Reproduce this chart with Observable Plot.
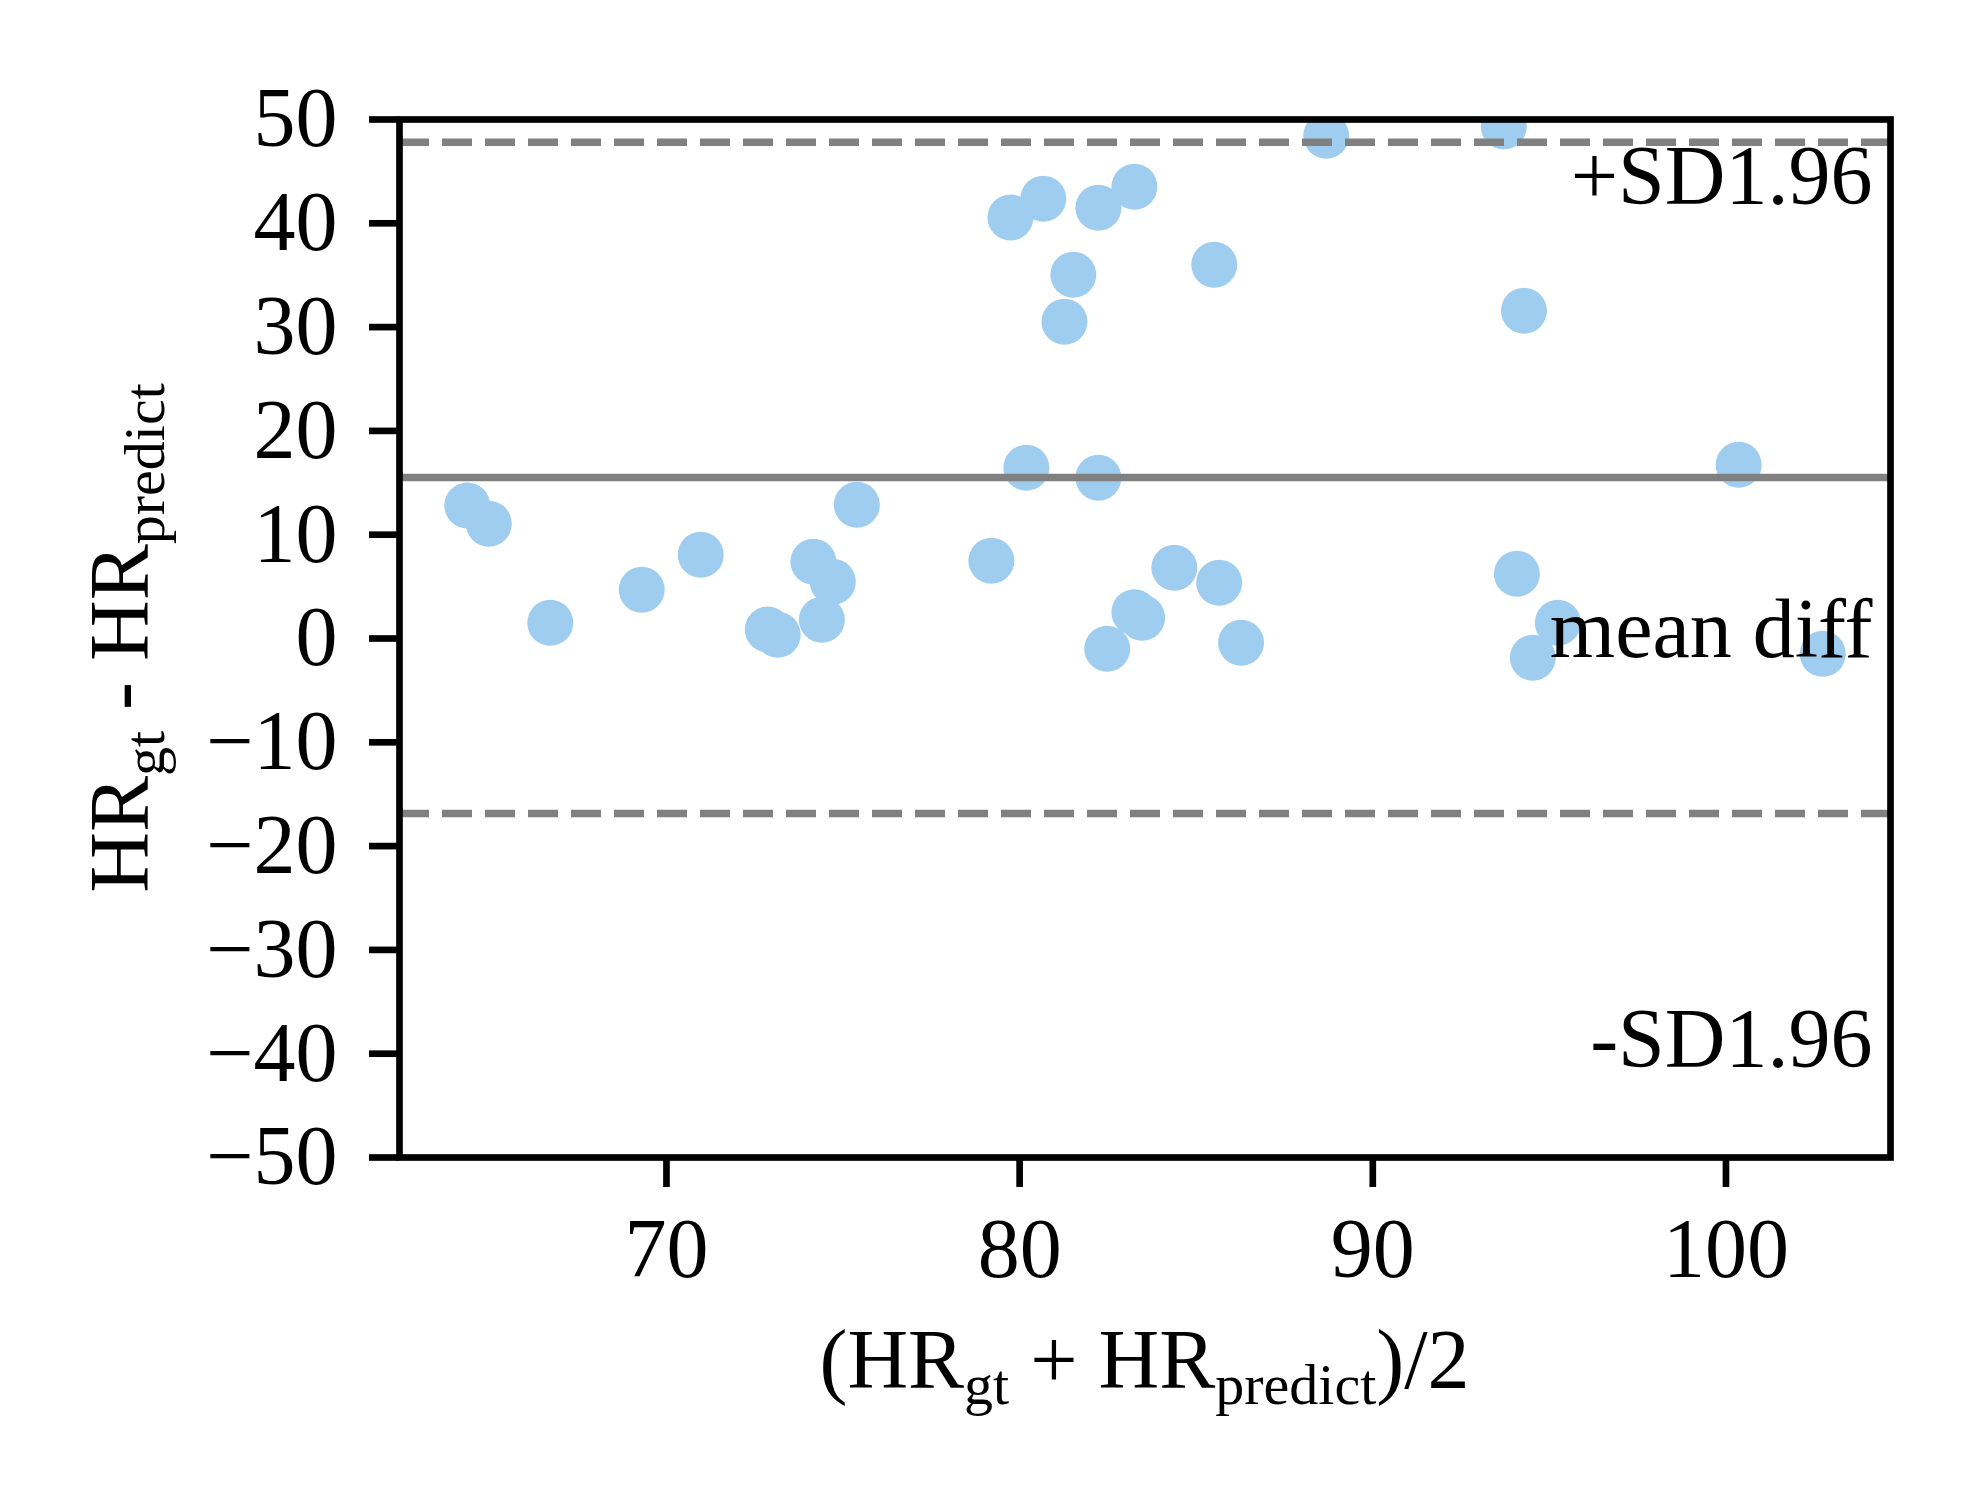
<!DOCTYPE html>
<html>
<head>
<meta charset="utf-8">
<script src="https://cdn.jsdelivr.net/npm/d3@7"></script>
<script src="https://cdn.jsdelivr.net/npm/@observablehq/plot@0.6"></script>
<style>
  html, body { margin: 0; padding: 0; background: #ffffff; }
  #chart { width: 1980px; height: 1500px; }
</style>
</head>
<body>
<div id="chart"></div>
<script>
// (HR_gt + HR_predict)/2
const meanHR = [64.36, 64.97, 66.71, 69.30, 70.97, 72.87, 73.15, 74.16, 74.71, 74.40, 75.39,
  79.74, 80.67, 82.23, 83.25, 81.52, 81.27, 85.51, 88.68, 80.19, 82.23, 79.20, 84.38, 85.65,
  83.25, 83.47, 82.48, 86.27, 93.71, 94.28, 94.08, 95.24, 94.53, 102.74, 100.36];
// HR_gt - HR_predict
const diffHR = [12.81, 11.05, 1.51, 4.69, 8.06, 0.87, 0.36, 7.39, 5.46, 1.80, 12.88,
  40.56, 42.36, 41.49, 43.52, 35.04, 30.51, 36.0, 48.43, 16.44, 15.48, 7.49, 6.81, 5.37,
  2.54, 2.0, -0.99, -0.41, 49.33, 31.57, 6.23, 1.51, -1.86, -1.48, 16.73];

const meanDiff = [15.5];
const sdLines = [47.8, -16.86];
const annotationText = ["+SD1.96", "mean diff", "-SD1.96"];
const annotationY = [41.9, -1.83, -41.3];
const xTicks = [70, 80, 90, 100];
const yTicks = [-50, -40, -30, -20, -10, 0, 10, 20, 30, 40, 50];

const points = meanHR.map((m, i) => ({m, d: diffHR[i]}));
const annotations = annotationText.map((t, i) => ({t, y: annotationY[i]}));

const xmin = d3.min(meanHR), xmax = d3.max(meanHR);
const pad = (xmax - xmin) * 0.05;

const FONT = "'Liberation Serif', 'Times New Roman', serif";
const FS = 84;
const fmtY = d => d < 0 ? "\u2212" + Math.abs(d) : String(d);

const plot = Plot.plot({
  width: 1980,
  height: 1500,
  marginLeft: 399,
  marginRight: 90,
  marginTop: 119,
  marginBottom: 343,
  style: {fontFamily: FONT, background: "#ffffff", color: "#000000"},
  x: {domain: [xmin - pad, xmax + pad]},
  y: {domain: [-50, 50]},
  marks: [
    Plot.dot(points, {x: "m", y: "d", r: 23, fill: "#9fcdef", stroke: "none", fillOpacity: 1, clip: true}),
    Plot.ruleY(meanDiff, {stroke: "#808080", strokeWidth: 7.5}),
    Plot.ruleY(sdLines, {stroke: "#808080", strokeWidth: 7.5, strokeDasharray: "30,13"}),
    Plot.text(annotations, {
      y: "y", text: "t", frameAnchor: "right", dx: -18,
      textAnchor: "end", lineAnchor: "bottom",
      fontSize: FS, fontFamily: FONT, fill: "#000000"
    }),
    Plot.axisX({
      ticks: xTicks, tickSize: 30, tickPadding: 30, fontSize: FS, strokeWidth: 6.67,
      label: null, tickFormat: d => String(d), fontFamily: FONT
    }),
    Plot.axisY({
      ticks: yTicks, tickSize: 30, tickPadding: 32, fontSize: FS, strokeWidth: 6.67,
      label: null, tickFormat: fmtY, fontFamily: FONT
    }),
    Plot.frame({stroke: "#000000", strokeWidth: 6.67})
  ]
});

document.getElementById("chart").appendChild(plot);

// Axis titles with subscripts
const svg = d3.select(plot);
const xr = plot.scale("x").range;
const yr = plot.scale("y").range;
const xc = (xr[0] + xr[1]) / 2;
const yc = (yr[0] + yr[1]) / 2;
const SUB = 58, SHIFT = 16;

function addLabel(g, parts) {
  const t = g.append("text")
    .attr("text-anchor", "middle")
    .attr("font-family", FONT)
    .attr("font-size", FS)
    .attr("fill", "#000000");
  let shifted = false;
  for (const [str, sub] of parts) {
    const ts = t.append("tspan").text(str);
    if (sub && !shifted) { ts.attr("font-size", SUB).attr("dy", SHIFT); shifted = true; }
    else if (!sub && shifted) { ts.attr("dy", -SHIFT); shifted = false; }
  }
  return t;
}

addLabel(svg.append("g").attr("transform", `translate(${xc},1388)`),
  [["(HR", false], ["gt", true], [" + HR", false], ["predict", true], [")/2", false]]);

addLabel(svg.append("g").attr("transform", `translate(148,${yc}) rotate(-90)`),
  [["HR", false], ["gt", true], [" - HR", false], ["predict", true]]);
</script>
</body>
</html>
